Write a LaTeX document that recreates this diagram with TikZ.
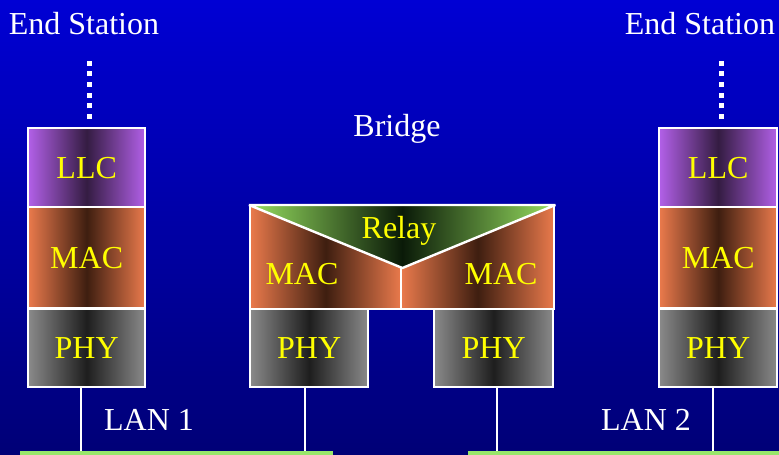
\documentclass[tikz,border=0pt]{standalone}
\usepackage{fontspec}
\setmainfont{Liberation Serif}
\begin{document}
\definecolor{bgtop}{RGB}{0,0,212}
\definecolor{bgbot}{RGB}{0,0,118}
\definecolor{llcedge}{RGB}{178,96,232}
\definecolor{llcmid}{RGB}{52,28,66}
\definecolor{macedge}{RGB}{234,122,76}
\definecolor{macmid}{RGB}{62,30,16}
\definecolor{phyedge}{RGB}{138,138,138}
\definecolor{phymid}{RGB}{30,30,30}
\definecolor{relayedge}{RGB}{152,224,96}
\definecolor{relaymid}{RGB}{10,26,8}
\definecolor{lanbar}{RGB}{152,230,106}
\definecolor{labelyellow}{RGB}{255,255,0}
\begin{tikzpicture}[x=1pt,y=-1pt,
  txt/.style={font=\fontsize{32}{36}\selectfont, inner sep=0pt},
  whitetxt/.style={txt, text=white},
  layertxt/.style={txt, text=labelyellow},
  layer/.style={draw=white, line width=2.4pt, inner sep=0pt, anchor=north west},
  llcbox/.style={layer, left color=llcedge, right color=llcedge, middle color=llcmid},
  macbox/.style={layer, left color=macedge, right color=macedge, middle color=macmid},
  phybox/.style={layer, left color=phyedge, right color=phyedge, middle color=phymid},
  wire/.style={draw=white, line width=2pt},
  dots/.style={draw=white, line width=5pt, dash pattern=on 5pt off 5.7pt},
  bar/.style={fill=lanbar, inner sep=0pt, anchor=north west, minimum height=6pt}
]
% background
\useasboundingbox (0,0) rectangle (779,455);
\shade[top color=bgtop, bottom color=bgbot] (0,0) rectangle (779,455);

% titles
\node[whitetxt] (es1) at (84,24) {End Station};
\node[whitetxt] (es2) at (700,24) {End Station};
\node[whitetxt] (br) at (397,129) {Bridge};

% left end station stack
\node[llcbox, minimum width=117pt, minimum height=79pt] (llcA) at (27,127) {};
\node[macbox, minimum width=117pt, minimum height=101pt] (macA) at (27,206) {};
\node[phybox, minimum width=117pt, minimum height=78pt] (phyA) at (27,308) {};
\node[layertxt] at (llcA.center) {LLC};
\node[layertxt] at (macA.center) {MAC};
\node[layertxt] at (phyA.center) {PHY};

% right end station stack
\node[llcbox, minimum width=118pt, minimum height=79pt] (llcB) at (658,127) {};
\node[macbox, minimum width=118pt, minimum height=101pt] (macB) at (658,206) {};
\node[phybox, minimum width=118pt, minimum height=78pt] (phyB) at (658,308) {};
\node[layertxt] at (llcB.center) {LLC};
\node[layertxt] at (macB.center) {MAC};
\node[layertxt] at (phyB.center) {PHY};

% upper layers hinted by dotted lines
\coordinate (upA) at (89,55);
\coordinate (upB) at (721,55);
\draw[dots] (89,119) -- (upA);
\draw[dots] (721,119) -- (upB);

% bridge
\node[macbox, minimum width=151pt, minimum height=103pt] (macL) at (249,205) {};
\node[macbox, minimum width=153pt, minimum height=103pt] (macR) at (400,205) {};
\shade[draw=white, line width=2.4pt, line join=bevel,
  left color=relayedge, right color=relayedge, middle color=relaymid]
  (macL.north west) -- (macR.north east) -- (macL.north east |- 0,268) -- cycle;
\node[layertxt] (relay) at (399,231) {Relay};
\node[layertxt] at (302,274) {MAC};
\node[layertxt] at (501,274) {MAC};
\node[phybox, minimum width=118pt, minimum height=78pt] (phyL) at (249,308) {};
\node[phybox, minimum width=119pt, minimum height=78pt] (phyR) at (433,308) {};
\node[layertxt] at (phyL.center) {PHY};
\node[layertxt] at (phyR.center) {PHY};

% LAN segments
\node[bar, minimum width=313pt] (lan1) at (20,451) {};
\node[bar, minimum width=320pt] (lan2) at (468,451) {};
\node[whitetxt] at (149,420) {LAN 1};
\node[whitetxt] at (646,420) {LAN 2};

% attachments to the LANs
\draw[wire] (phyA.south west -| 81,0) -- (81,451 |- lan1.north);
\draw[wire] (phyL.south west -| 305,0) -- (305,451 |- lan1.north);
\draw[wire] (phyR.south west -| 497,0) -- (497,451 |- lan2.north);
\draw[wire] (phyB.south west -| 713,0) -- (713,451 |- lan2.north);
\end{tikzpicture}
\end{document}
